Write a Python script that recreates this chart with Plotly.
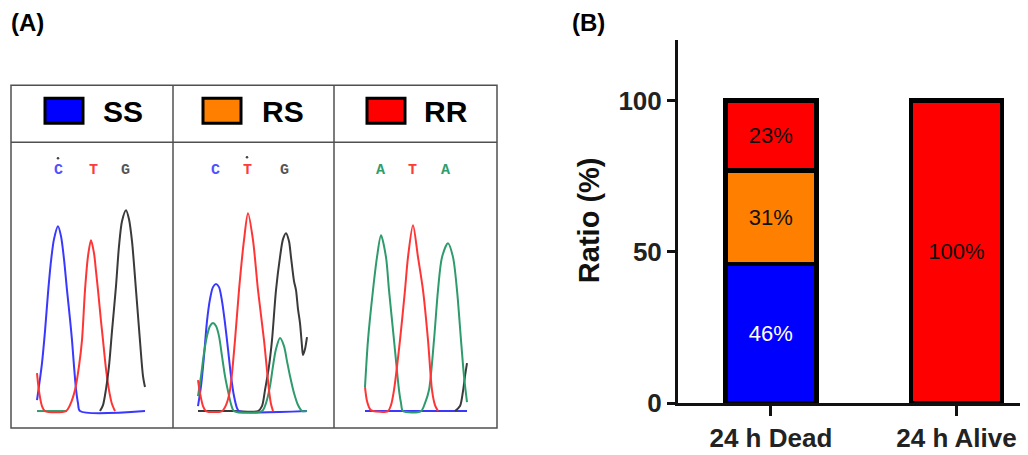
import plotly.graph_objects as go

# ---------------- Panel B data ----------------
categories = ["24 h Dead", "24 h Alive"]
ss_pct = [46, None]
rs_pct = [31, None]
rr_pct = [23, 100]
y_tickvals = [0, 50, 100]

# ---------------- Panel A data (chromatogram traces) ----------------
# x = scan position, y = signal intensity above baseline
ss_blue_x = [37, 39, 42, 45, 48, 51, 54, 58, 61, 64, 67, 70, 72, 74, 76, 78, 80, 145]
ss_blue_y = [11, 25, 48, 80, 118, 150, 172, 185, 175, 152, 121, 92, 71, 45, 22, 8, 0, 0]
ss_red_x = [37, 39, 42, 45, 66, 70, 75, 79, 82, 85, 88, 91, 94, 96, 98, 101, 103, 106, 109, 112, 115]
ss_red_y = [38, 20, 5, 0, 0, 6, 21, 45, 71, 121, 155, 171, 158, 140, 121, 90, 71, 42, 21, 7, 0]
ss_black_x = [100, 103, 106, 109, 112, 116, 119, 122, 126, 129, 132, 136, 140, 143, 145]
ss_black_y = [0, 6, 22, 45, 80, 125, 165, 190, 201, 192, 170, 121, 70, 35, 24]
ss_green_x = [37, 67]
ss_green_y = [0, 0]

rs_blue_x = [198, 201, 204, 207, 210, 213, 216, 219, 222, 225, 228, 231, 234, 237, 239, 307]
rs_blue_y = [5, 25, 55, 90, 112, 124, 127, 124, 110, 88, 62, 35, 15, 3, 0, 0]
rs_green_x = [198, 201, 204, 207, 210, 213, 216, 219, 222, 225, 228, 231, 234, 262, 266, 270, 273, 276,
              280, 284, 287, 290, 294, 298, 302, 307]
rs_green_y = [15, 35, 58, 75, 85, 88, 85, 75, 55, 35, 20, 7, 0, 0, 8, 25, 45, 62,
              73, 65, 50, 35, 18, 6, 0, 0]
rs_red_x = [198, 200, 203, 206, 222, 226, 230, 235, 239, 244, 248, 253, 258, 264, 269, 271, 273]
rs_red_y = [31, 18, 5, 0, 0, 6, 21, 71, 121, 171, 198, 171, 121, 71, 21, 7, 0]
rs_black_x = [198, 235, 258, 262, 265, 269, 272, 276, 280, 283, 286, 289, 291, 294, 296, 298, 300, 302,
              303, 305, 307]
rs_black_y = [0, 0, 0, 5, 21, 45, 71, 121, 154, 172, 178, 170, 154, 130, 121, 102, 88, 65,
              56, 62, 74]

rr_blue_x = [365, 467]
rr_blue_y = [0, 0]
rr_green_x = [365, 368, 373, 377, 381, 386, 389, 394, 399, 401, 403, 421, 425, 429, 434, 438, 442,
              448, 453, 457, 461, 464, 467]
rr_green_y = [24, 71, 121, 154, 176, 154, 121, 71, 21, 8, 0, 0, 8, 21, 71, 121, 154,
              168, 154, 121, 71, 35, 9]
rr_red_x = [365, 367, 370, 373, 388, 391, 394, 400, 405, 408, 413, 418, 423, 428, 432, 435, 438]
rr_red_y = [24, 10, 2, 0, 0, 6, 21, 71, 121, 154, 186, 154, 121, 71, 21, 6, 0]
rr_black_x = [455, 460, 463, 465, 467]
rr_black_y = [0, 5, 20, 35, 48]

base_letters = ["C", "T", "G", "C", "T", "G", "A", "T", "A"]
base_letter_x = [58, 93, 125, 215, 247, 284, 380, 412, 445]
base_letter_colors = ["#5050ff", "#ff3a3a", "#555555", "#5050ff", "#ff3a3a", "#555555",
                      "#2f9d6c", "#ff3a3a", "#2f9d6c"]
genotypes = ["SS", "RS", "RR"]
genotype_colors = ["#0000ff", "#ff8000", "#ff0000"]

# ---------------- styling / geometry ----------------
C_BLUE = "#3838ff"
C_RED = "#ff3535"
C_BLACK = "#3a3a3a"
C_GREEN = "#2e9b6c"
FONT = "Liberation Sans, Arial, sans-serif"
OFF = 8                       # page body margin
SQ = 0.968                    # vertical scale of the captured page
W = 1028 - OFF
H = 462
BASE = 411                    # baseline pixel row of chromatograms (target coords)


def py(v):
    """target pixel row -> overlay-axis y value"""
    return BASE - v


def paper_x(X):
    return (X - OFF) / W


def paper_y(Y):
    return 1 - (Y / SQ - OFF) / H


fig = go.Figure()

# ---- Panel B bars ----
bar_specs = [(ss_pct, genotype_colors[0], "white", "SS"),
             (rs_pct, genotype_colors[1], "#111111", "RS"),
             (rr_pct, genotype_colors[2], "#111111", "RR")]
for vals, col, tcol, nm in bar_specs:
    fig.add_trace(go.Bar(
        x=categories, y=vals, width=0.49, name=nm,
        marker=dict(color=col, line=dict(color="black", width=4.5)),
        text=[f"{v}%" if v is not None else "" for v in vals],
        textposition="inside", insidetextanchor="middle", textangle=0,
        textfont=dict(family=FONT, size=22, color=tcol), constraintext="none",
    ))

# ---- Panel A chromatograms ----
chrom = [
    (ss_green_x, ss_green_y, C_GREEN), (ss_blue_x, ss_blue_y, C_BLUE),
    (ss_red_x, ss_red_y, C_RED), (ss_black_x, ss_black_y, C_BLACK),
    (rs_black_x, rs_black_y, C_BLACK), (rs_blue_x, rs_blue_y, C_BLUE),
    (rs_green_x, rs_green_y, C_GREEN), (rs_red_x, rs_red_y, C_RED),
    (rr_blue_x, rr_blue_y, C_BLUE), (rr_black_x, rr_black_y, C_BLACK),
    (rr_green_x, rr_green_y, C_GREEN), (rr_red_x, rr_red_y, C_RED),
]
for xs, ys, col in chrom:
    fig.add_trace(go.Scatter(
        x=xs, y=ys, mode="lines", xaxis="x2", yaxis="y2",
        line=dict(color=col, width=2.0, shape="spline", smoothing=0.8),
        hoverinfo="skip", showlegend=False,
    ))

# small dots above the mutated base call
fig.add_trace(go.Scatter(
    x=[58, 247], y=[py(158), py(157)], mode="markers", xaxis="x2", yaxis="y2",
    marker=dict(color="#444444", size=2.5), hoverinfo="skip", showlegend=False,
))

annotations = []
for letter, lx, lc in zip(base_letters, base_letter_x, base_letter_colors):
    annotations.append(dict(
        x=lx, y=py(170), xref="x2", yref="y2", text=f"<b>{letter}</b>", showarrow=False,
        xanchor="center", yanchor="middle",
        font=dict(family="Liberation Mono, Courier New, monospace", size=15, color=lc),
    ))

shapes = []
LINE = dict(color="#505050", width=1.5)
shapes.append(dict(type="rect", xref="x2", yref="y2", x0=11, x1=497, y0=py(85), y1=py(428), line=LINE))
shapes.append(dict(type="line", xref="x2", yref="y2", x0=11, x1=497, y0=py(142), y1=py(142), line=LINE))
for vx in (173, 334):
    shapes.append(dict(type="line", xref="x2", yref="y2", x0=vx, x1=vx, y0=py(85), y1=py(428), line=LINE))

box_x0 = [45, 203, 367]
label_x = [123, 283, 446]
for g, gc, bx, lx in zip(genotypes, genotype_colors, box_x0, label_x):
    shapes.append(dict(type="rect", xref="x2", yref="y2", x0=bx, x1=bx + 38, y0=py(98), y1=py(123),
                       fillcolor=gc, line=dict(color="black", width=3)))
    annotations.append(dict(
        x=lx, y=py(111), xref="x2", yref="y2", text=f"<b>{g}</b>", showarrow=False,
        xanchor="center", yanchor="middle",
        font=dict(family=FONT, size=30, color="black"),
    ))

annotations.append(dict(x=paper_x(27), y=paper_y(22), xref="paper", yref="paper", text="<b>(A)</b>",
                        xanchor="center", yanchor="middle",
                        showarrow=False, font=dict(family=FONT, size=24, color="black")))
annotations.append(dict(x=paper_x(588), y=paper_y(22), xref="paper", yref="paper", text="<b>(B)</b>",
                        xanchor="center", yanchor="middle",
                        showarrow=False, font=dict(family=FONT, size=24, color="black")))
annotations.append(dict(x=paper_x(589), y=paper_y(220), xref="paper", yref="paper",
                        text="<b>Ratio (%)</b>", textangle=-90, xanchor="center", yanchor="middle",
                        showarrow=False, font=dict(family=FONT, size=29, color="#111111")))

fig.update_layout(
    width=W, height=H,
    margin=dict(l=0, r=0, t=0, b=0),
    paper_bgcolor="white", plot_bgcolor="rgba(0,0,0,0)",
    barmode="stack", showlegend=False,
    font=dict(family=FONT, color="#111111"),
    xaxis=dict(
        domain=[paper_x(678), 1.0], range=[-0.5, 1.385], type="category",
        showline=True, linewidth=3, linecolor="#111111",
        ticks="outside", ticklen=10, tickwidth=3, tickcolor="#111111",
        tickfont=dict(family=FONT, size=26, color="#222222", weight="bold"),
        showgrid=False, zeroline=False, anchor="y",
    ),
    yaxis=dict(
        domain=[paper_y(403), paper_y(40)], range=[0, 120],
        tickvals=y_tickvals,
        showline=True, linewidth=3, linecolor="#111111",
        ticks="outside", ticklen=8, tickwidth=3, tickcolor="#111111",
        tickfont=dict(family=FONT, size=26, color="#222222", weight="bold"),
        showgrid=False, zeroline=False, anchor="x",
    ),
    xaxis2=dict(domain=[0, 1], range=[OFF, OFF + W], visible=False, anchor="y2", fixedrange=True),
    yaxis2=dict(domain=[0, 1], range=[py(SQ * (H + OFF)), py(SQ * OFF)], visible=False, anchor="x2",
                fixedrange=True),
    shapes=shapes,
    annotations=annotations,
)

fig.write_html("out.html")
